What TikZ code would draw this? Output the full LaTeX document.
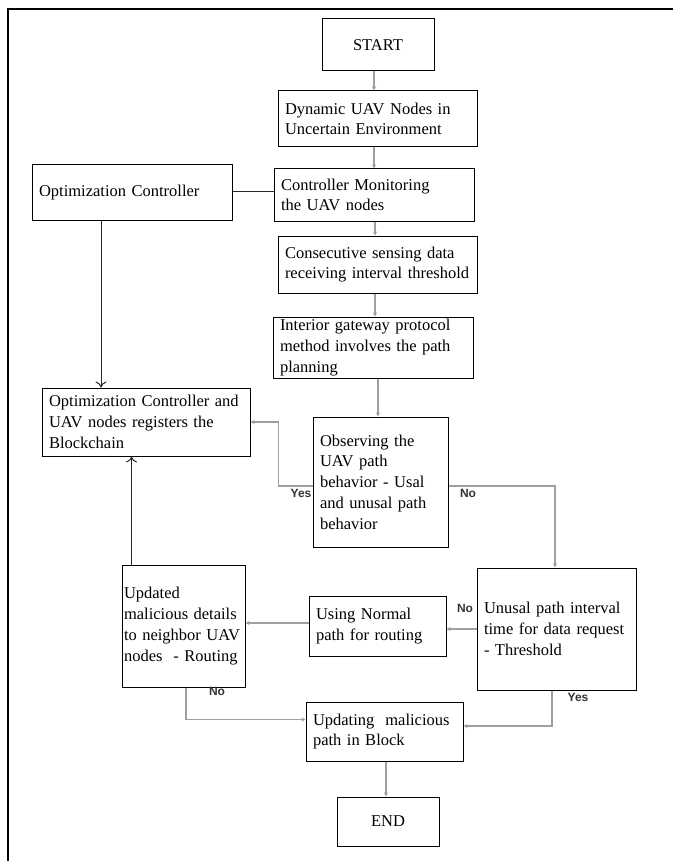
\documentclass[tikz,border=0pt]{standalone}
\usepackage{fontspec}
\setmainfont{Liberation Serif}
\newfontfamily\lblfont{Liberation Sans}
\usetikzlibrary{arrows.meta,calc}

\begin{document}
\begin{tikzpicture}[x=1pt,y=-1pt]
	\path [use as bounding box] (0,0) rectangle (673,861);
	\tikzstyle{every node} = [font=\fontsize{16.5}{20.7}\selectfont]
	\tikzstyle{box} = [draw, line width=1pt, inner xsep=7pt, inner ysep=0pt, align=left]
	\tikzstyle{flow} = [draw=gray!75, line width=1.2pt, -{Stealth[length=4pt,width=4pt]}]
	\tikzstyle{bline} = [draw=black!85, line width=1pt]
	\tikzstyle{lbl} = [font=\lblfont\bfseries\fontsize{12}{13}\selectfont, text=black!80, inner sep=0pt]
	% frame
	\draw[line width=2pt] (8,861) -- (8,9) -- (673,9);
	% boxes
	\node[box, align=center, minimum width=112, minimum height=52] (start) at (378,45) {START};
	\node[box, text width=185, minimum height=56] (dyn) at (377.5,119) {Dynamic UAV Nodes in\\Uncertain Environment};
	\node[box, text width=186, minimum height=55] (optc) at (132,192.5) {Optimization Controller};
	\node[box, text width=186, minimum height=52] (mon) at (374,195) {Controller Monitoring\\the UAV nodes};
	\node[box, text width=185, minimum height=57] (cons) at (377.5,264.5) {Consecutive sensing data\\receiving interval threshold};
	\node[box, text width=186, minimum height=61] (igp) at (373,347.5) {Interior gateway protocol\\method involves the path\\planning};
	\node[box, text width=194, minimum height=68] (reg) at (146,422) {Optimization Controller and\\UAV nodes registers the\\Blockchain};
	\node[box, text width=121, minimum height=130] (obs) at (380.5,482) {Observing the\\UAV path\\behavior - Usal\\and unusal path\\behavior};
	\node[box, text width=145, minimum height=122] (unus) at (556.5,629) {Unusal path interval\\time for data request\\- Threshold\\[12pt]};
	\node[box, inner xsep=2pt, text width=119, minimum height=122] (upd) at (183.5,626) {Updated\\malicious details\\to neighbor UAV\\nodes~ - Routing\\[14pt]};
	\node[box, text width=123, minimum height=60] (norm) at (377.5,626) {Using Normal\\path for routing};
	\node[box, text width=143, minimum height=59] (blk) at (384.5,731.5) {Updating~ malicious\\path in Block};
	\node[box, align=center, minimum width=102, minimum height=49] (end) at (388,821.5) {END};
	% labels
	\node[lbl] (yes1) at (301,493) {Yes};
	\node[lbl] (no1) at (468,493) {No};
	\node[lbl] (no2) at (465,608) {No};
	\node[lbl] (no3) at (217,691) {No};
	\node[lbl] (yes2) at (578,697) {Yes};
	% main flow
	\draw[flow] ([xshift=-4pt]start.south) -- ([xshift=-4pt]start.south |- dyn.north);
	\draw[flow] ([xshift=-3.5pt]dyn.south) -- ([xshift=-3.5pt]dyn.south |- mon.north);
	\draw[flow] ([xshift=1pt]mon.south) -- ([xshift=1pt]mon.south |- cons.north);
	\draw[flow] ([xshift=-2.5pt]cons.south) -- ([xshift=-2.5pt]cons.south |- igp.north);
	\draw[flow] ([xshift=-2.5pt]obs.north |- igp.south) -- ([xshift=-2.5pt]obs.north);
	% controller links
	\draw[bline] (optc.east |- 0,191) -- (mon.west |- 0,191);
	\draw[bline, -{To[length=6pt,width=11pt]}] ([xshift=-31pt]optc.south) -- ([xshift=-31pt]optc.south |- reg.north);
	\draw[bline, -{To[length=6pt,width=11pt]}] ([xshift=-52pt]upd.north) -- ([xshift=-52pt]upd.north |- reg.south);
	% decisions
	\draw[flow] ([yshift=-4pt]obs.west) -- ++(-34,0) |- (reg.east);
	\draw[flow] ([yshift=-4pt]obs.east) -| ([xshift=-1.5pt]unus.north);
	\draw[flow] (unus.west) -- (unus.west -| norm.east);
	\draw[flow] ([yshift=3pt]norm.west) -- ([yshift=3pt]norm.west -| upd.east);
	\draw[flow] ([xshift=2.5pt]upd.south) |- ([yshift=12pt]blk.west);
	\draw[flow] ([xshift=-4.5pt]unus.south) |- ([yshift=5.5pt]blk.east);
	\draw[flow] ([xshift=1.5pt]blk.south) -- ([xshift=1.5pt]blk.south |- end.north);
\end{tikzpicture}
\end{document}
